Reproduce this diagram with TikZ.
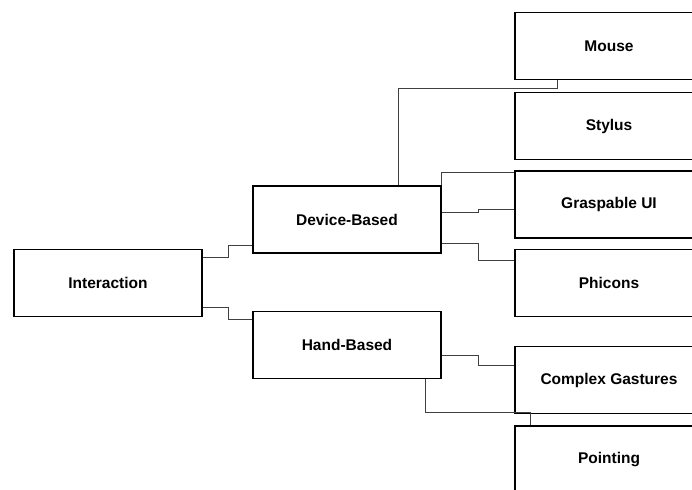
\documentclass[tikz,border=0pt]{standalone}
\usepackage{fontspec}
\setmainfont{Liberation Sans}
\begin{document}
\begin{tikzpicture}[x=1pt,y=-1pt,
  box/.style={draw=black,line width=1.8pt,fill=white,minimum width=188pt,minimum height=67pt,inner sep=0pt,
    font=\fontsize{15.5}{17}\selectfont\bfseries},
  conn/.style={draw=black!75,line width=0.9pt}]
\useasboundingbox (0,0) rectangle (692,489);
\clip (0,0) rectangle (692,489);
\node[box] (int) at (108,283) {Interaction};
\node[box] (dev) at (347,219.5) {Device-Based};
\node[box] (hand) at (347,345) {Hand-Based};
\node[box] (mouse) at (609,46) {Mouse};
\node[box] (stylus) at (609,126) {Stylus};
\node[box] (grasp) at (609,204.5) {Graspable UI};
\node[box] (phic) at (609,283) {Phicons};
\node[box] (comp) at (609,380) {Complex Gastures};
\node[box] (point) at (609,459.5) {Pointing};
\draw[conn] ([yshift=-9pt]int.north east) -- ++(26,0) |- ([yshift=8pt]dev.south west);
\draw[conn] ([yshift=10pt]int.south east) -- ++(26,0) |- ([yshift=-9pt]hand.north west);
\draw[conn] ([xshift=-43pt]dev.north east) -- ++(0,-97) -| ([xshift=43pt]mouse.south west);
\draw[conn] (dev.north east) |- ([yshift=-2pt]grasp.north west);
\draw[conn] ([yshift=-27pt]dev.north east) -- ++(37,0) |- ([yshift=-39pt]grasp.north west);
\draw[conn] ([yshift=10pt]dev.south east) -- ++(37,0) |- ([yshift=-12pt]phic.north west);
\draw[conn] ([yshift=-45pt]hand.north east) -- ++(37,0) |- ([yshift=-20pt]comp.north west);
\draw[conn] ([xshift=-16pt]hand.south east) -- ++(0,33) -| ([xshift=16pt]point.north west);
\end{tikzpicture}
\end{document}
